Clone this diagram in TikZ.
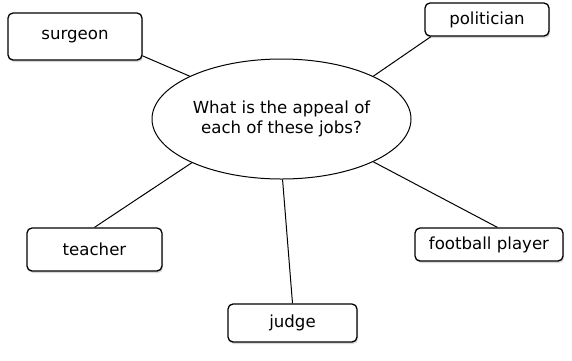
\documentclass[tikz,border=0pt]{standalone}
\usepackage{fontspec}
\setmainfont{DejaVu Sans}
\usetikzlibrary{shapes.geometric,shadows}

\tikzset{
  jobbox/.style={draw, rounded corners=5pt, line width=1.3pt, fill=white, inner sep=0pt,
    drop shadow={opacity=0.3, shadow xshift=1pt, shadow yshift=-2pt}},
  spoke/.style={line width=1pt}
}

\begin{document}
\begin{tikzpicture}[x=1pt, y=1pt, font=\fontsize{16.6}{20}\selectfont]
		\useasboundingbox (0,0) rectangle (572,-360);
		
		% Central question
		\node[ellipse, draw, line width=1pt, minimum width=259pt, minimum height=120pt, inner sep=0pt, align=center] (question) at (281.5,-119) {What is the appeal of\\ each of these jobs?};
		
		% Jobs
		\node[jobbox, minimum width=134pt, minimum height=47pt] (surgeon) at (75,-36.5) {surgeon};
		\node[jobbox, minimum width=124pt, minimum height=33pt] (politician) at (487,-19.5) {politician};
		\node[jobbox, minimum width=135pt, minimum height=43pt] (teacher) at (94.5,-249.5) {teacher};
		\node[jobbox, minimum width=148pt, minimum height=33pt] (football) at (489,-244.5) {football player};
		\node[jobbox, minimum width=129pt, minimum height=38pt] (judge) at (292.5,-323) {judge};
		
		% Spokes
		\draw[spoke] (surgeon.-16) -- (question.155);
		\draw[spoke] (politician.197) -- (question.25);
		\draw[spoke] (teacher.north) -- (question.206);
		\draw[spoke] (football.64) -- (question.-25);
		\draw[spoke] (judge.north) -- (question.271);
	\end{tikzpicture}
\end{document}
